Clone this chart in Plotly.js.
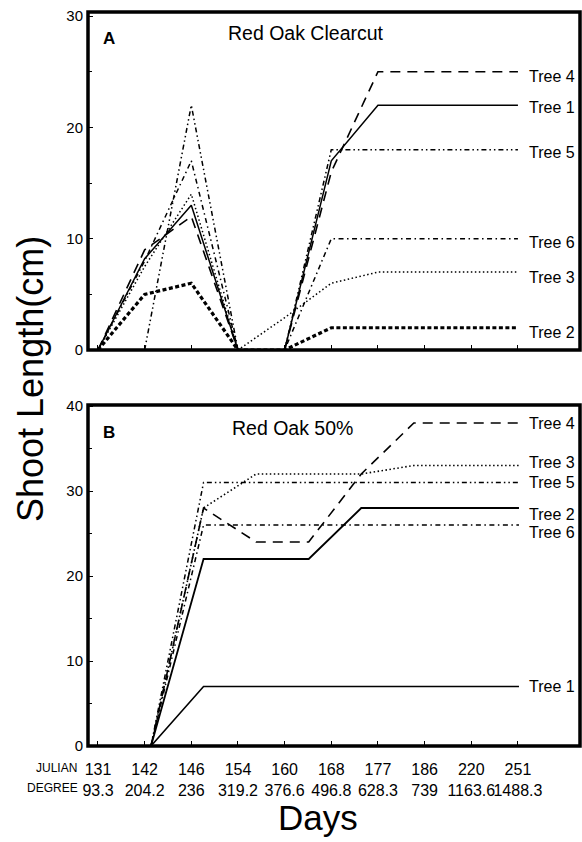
<!DOCTYPE html>
<html>
<head>
<meta charset="utf-8">
<script src="https://cdn.plot.ly/plotly-3.0.1.min.js"></script>
<style>html,body{margin:0;padding:0;background:#fff;}#chart{width:582px;height:842px;}</style>
</head>
<body>
<div id="chart"></div>
<script>
// ---- Data ----
const julian = ['131','142','146','154','160','168','177','186','220','251'];
const degree = ['93.3','204.2','236','319.2','376.6','496.8','628.3','739','1163.6','1488.3'];
const treeNames = ['Tree 1','Tree 2','Tree 3','Tree 4','Tree 5','Tree 6'];

// Panel A: Red Oak Clearcut (one value per Julian day)
const aTree1 = [0, 8.2, 13, 0, 0, 17, 22, 22, 22, 22];
const aTree2 = [0, 5, 6, 0, 0, 2, 2, 2, 2, 2];
const aTree3 = [0, 7.5, 14, 0, 2.9, 6, 7, 7, 7, 7];
const aTree4 = [0, 9, 12, 0, 0, 16, 25, 25, 25, 25];
const aTree5 = [null, 0, 22, 0, 0, 18, 18, 18, 18, 18];
const aTree6 = [0, 8, 17, 0, 0, 10, 10, 10, 10, 10];

// Panel B: Red Oak 50% (measurement number)
const bStep = [1, 2, 3, 4, 5, 6, 7, 8];
const bTree1 = [0, 7, 7, 7, 7, 7, 7, 7];
const bTree2 = [0, 22, 22, 22, 28, 28, 28, 28];
const bTree3 = [0, 28, 32, 32, 32, 33, 33, 33];
const bTree4 = [0, 28, 24, 24, 32, 38, 38, 38];
const bTree5 = [0, 31, 31, 31, 31, 31, 31, 31];
const bTree6 = [0, 26, 26, 26, 26, 26, 26, 26];

// ---- Styles ----
const FONT = 'Liberation Sans, Arial, Helvetica, sans-serif';
const styleA = [
  {dash: 'solid', width: 1.5},
  {dash: '4px,2.5px', width: 3.2},
  {dash: '1.5px,2.5px', width: 1.5},
  {dash: '10px,7px', width: 1.6},
  {dash: '5px,3px,1.5px,3px,1.5px,3px', width: 1.5},
  {dash: '5px,3.5px,1.5px,3.5px', width: 1.5}
];
const styleB = [
  {dash: 'solid', width: 1.6},
  {dash: 'solid', width: 1.8},
  {dash: '1.5px,2.5px', width: 1.6},
  {dash: '10px,7px', width: 1.6},
  {dash: '5px,3px,1.5px,3px,1.5px,3px', width: 1.5},
  {dash: '5px,3.5px,1.5px,3.5px', width: 1.5}
];
const labelShiftA = [-2, -5, -5, -5, -3, -4];
const labelShiftB = [0, -6, 3, 0, 0, -7];

const seriesA = [aTree1, aTree2, aTree3, aTree4, aTree5, aTree6];
const seriesB = [bTree1, bTree2, bTree3, bTree4, bTree5, bTree6];

// Panel B axis: step units; julian tick marks placed where panel A's categories sit
const catRange = [-0.214, 10.33];          // panel A category axis range
const stepRange = [-0.198, 9.161];         // panel B step axis range (same pixel width)
const catToStep = c => stepRange[0] + (c - catRange[0]) / (catRange[1] - catRange[0]) * (stepRange[1] - stepRange[0]);

const traces = [];
const annotations = [];
seriesA.forEach((ys, i) => {
  traces.push({type: 'scatter', mode: 'lines', name: treeNames[i] + ' (A)', x: julian, y: ys,
    xaxis: 'x', yaxis: 'y', line: {color: '#000', dash: styleA[i].dash, width: styleA[i].width},
    showlegend: false, hoverinfo: 'x+y'});
  annotations.push({xref: 'x', yref: 'y', x: julian.length - 1, y: ys[ys.length - 1], text: treeNames[i],
    showarrow: false, xanchor: 'left', yanchor: 'middle', xshift: 9, yshift: labelShiftA[i],
    font: {family: FONT, size: 16, color: '#000'}});
});
seriesB.forEach((ys, i) => {
  traces.push({type: 'scatter', mode: 'lines', name: treeNames[i] + ' (B)', x: bStep, y: ys,
    xaxis: 'x2', yaxis: 'y2', line: {color: '#000', dash: styleB[i].dash, width: styleB[i].width},
    showlegend: false, hoverinfo: 'y'});
  annotations.push({xref: 'x2', yref: 'y2', x: bStep[bStep.length - 1], y: ys[ys.length - 1], text: treeNames[i],
    showarrow: false, xanchor: 'left', yanchor: 'middle', xshift: 8, yshift: labelShiftB[i],
    font: {family: FONT, size: 16, color: '#000'}});
});

const pA = 0.5395, pBtop = 0.4646;
annotations.push(
  {xref: 'paper', yref: 'paper', x: 0, y: 1, xshift: 21, yshift: -26, text: '<b>A</b>', showarrow: false,
   xanchor: 'center', yanchor: 'middle', font: {family: FONT, size: 17, color: '#000'}},
  {xref: 'paper', yref: 'paper', x: 0, y: 1, xshift: 218, yshift: -21, text: 'Red Oak Clearcut', showarrow: false,
   xanchor: 'center', yanchor: 'middle', font: {family: FONT, size: 19.5, color: '#000'}},
  {xref: 'paper', yref: 'paper', x: 0, y: pBtop, xshift: 21, yshift: -28, text: '<b>B</b>', showarrow: false,
   xanchor: 'center', yanchor: 'middle', font: {family: FONT, size: 17, color: '#000'}},
  {xref: 'paper', yref: 'paper', x: 0, y: pBtop, xshift: 204, yshift: -23, text: 'Red Oak 50%', showarrow: false,
   xanchor: 'center', yanchor: 'middle', font: {family: FONT, size: 19.5, color: '#000'}},
  {xref: 'paper', yref: 'paper', x: 0, y: 0, xshift: -9, yshift: -22, text: 'JULIAN', showarrow: false,
   xanchor: 'right', yanchor: 'middle', font: {family: FONT, size: 12, color: '#000'}},
  {xref: 'paper', yref: 'paper', x: 0, y: 0, xshift: -8, yshift: -42, text: 'DEGREE', showarrow: false,
   xanchor: 'right', yanchor: 'middle', font: {family: FONT, size: 12, color: '#000'}},
  {xref: 'paper', yref: 'paper', x: 0.5, y: 0, xshift: -16.5, yshift: -71, text: 'Days', showarrow: false,
   xanchor: 'center', yanchor: 'middle', font: {family: FONT, size: 35, color: '#000'}},
  {xref: 'paper', yref: 'paper', x: 0, y: 0.5, xshift: -58, yshift: 0, text: 'Shoot Length(cm)', showarrow: false,
   textangle: -90, xanchor: 'center', yanchor: 'middle', font: {family: FONT, size: 36, color: '#000'}}
);

// Panel frames (thick black boxes, in paper coordinates so they are not clipped)
const frame = (y0, y1) => ({type: 'rect', xref: 'paper', yref: 'paper', x0: 0, x1: 1, y0: y0, y1: y1,
  line: {color: '#000', width: 3.5}, fillcolor: 'rgba(0,0,0,0)', layer: 'above'});
const shapes = [frame(pA, 1), frame(0, pBtop)];

const axisCommon = {showline: false, showgrid: false, zeroline: false,
  ticks: 'inside', ticklen: 5, tickwidth: 1, tickcolor: '#000'};

const layout = {
  width: 582, height: 842,
  margin: {l: 88, r: 2, t: 12, b: 96, pad: 0},
  paper_bgcolor: '#fff', plot_bgcolor: '#fff',
  font: {family: FONT, color: '#000'},
  showlegend: false,
  xaxis: Object.assign({}, axisCommon, {type: 'category', range: catRange, anchor: 'y',
    showticklabels: false}),
  yaxis: Object.assign({}, axisCommon, {domain: [pA, 1], range: [0, 30.37], anchor: 'x',
    tickmode: 'array', tickvals: [0, 10, 20, 30], tickfont: {family: FONT, size: 15, color: '#000'},
    ticklabelstandoff: 4,
    minor: {tick0: 0, dtick: 5, ticks: 'inside', ticklen: 4, tickcolor: '#000', showgrid: false}}),
  xaxis2: Object.assign({}, axisCommon, {type: 'linear', range: stepRange, anchor: 'y2',
    tickmode: 'array', tickvals: julian.map((_, i) => catToStep(i)),
    ticktext: julian.map((j, i) => j + '<br>' + degree[i]), tickangle: 0,
    tickfont: {family: FONT, size: 16, color: '#000'}, ticklabelstandoff: 12}),
  yaxis2: Object.assign({}, axisCommon, {domain: [0, pBtop], range: [0, 40.12], anchor: 'x2',
    tickmode: 'array', tickvals: [0, 10, 20, 30, 40], tickfont: {family: FONT, size: 15, color: '#000'},
    ticklabelstandoff: 4,
    minor: {tick0: 0, dtick: 5, ticks: 'inside', ticklen: 4, tickcolor: '#000', showgrid: false}}),
  shapes: shapes,
  annotations: annotations
};

Plotly.newPlot('chart', traces, layout, {displayModeBar: false, staticPlot: true});
</script>
</body>
</html>
